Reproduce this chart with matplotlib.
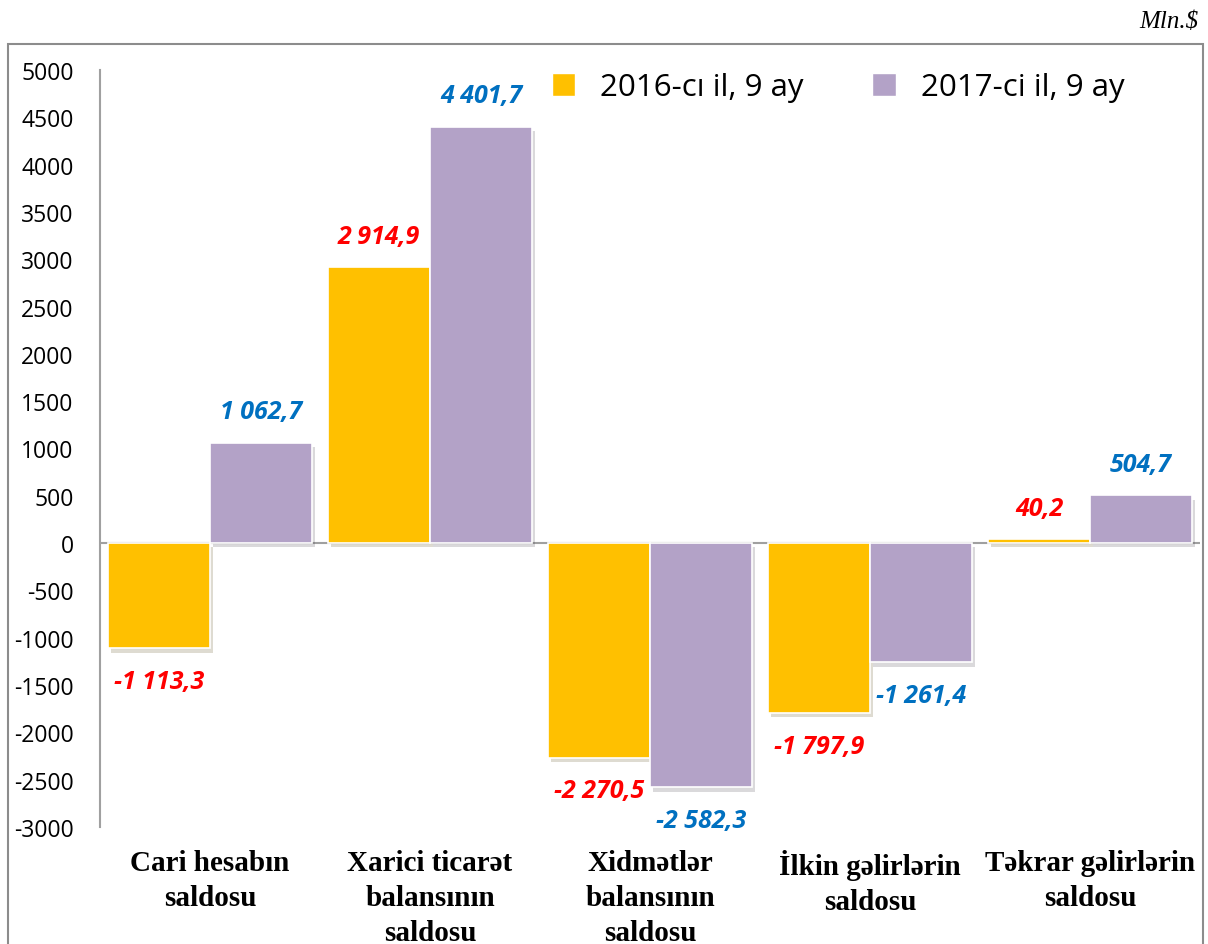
import matplotlib
matplotlib.use("Agg")
import matplotlib.pyplot as plt
import numpy as np
from matplotlib.patches import Patch, Rectangle
import matplotlib.patheffects as pe

categories = ["Cari hesabın\nsaldosu", "Xarici ticarət\nbalansının\nsaldosu",
              "Xidmətlər\nbalansının\nsaldosu", "İlkin gəlirlərin\nsaldosu",
              "Təkrar gəlirlərin\nsaldosu"]
series_names = ["2016-cı il, 9 ay", "2017-ci il, 9 ay"]
values_2016 = [-1113.3, 2914.9, -2270.5, -1797.9, 40.2]
values_2017 = [1062.7, 4401.7, -2582.3, -1261.4, 504.7]
yticks = list(range(-3000, 5001, 500))

colors = ["#FFC000", "#B3A2C7"]
label_colors = ["#FF0000", "#0070C0"]

def fmt(v):
    s = f"{abs(v):,.1f}".replace(",", " ").replace(".", ",")
    return ("-" if v < 0 else "") + s

fig = plt.figure(figsize=(12.08, 9.45), dpi=100)
ax = fig.add_axes([100/1208, (945-828)/945, 1100/1208, (828-71)/945])

x = np.arange(len(categories))
w = 0.4636
shadow = [pe.SimplePatchShadow(offset=(2, -3), alpha=0.18), pe.Normal()]
for i, (vals, c, lc) in enumerate(zip([values_2016, values_2017], colors, label_colors)):
    pos = x + (i - 0.5) * w
    bars = ax.bar(pos, vals, width=w, color=c, edgecolor="white", linewidth=1.2,
                  label=series_names[i], zorder=3)
    for b in bars:
        b.set_path_effects(shadow)
    for p, v in zip(pos, vals):
        off = 31 if v >= 0 else -33
        ax.annotate(fmt(v), (p, v), xytext=(0, off), textcoords="offset pixels",
                    ha="center", va="center", color=lc, fontsize=18,
                    fontweight="bold", fontstyle="italic", family="Open Sans")

ax.set_ylim(-3000, 5000)
ax.set_xlim(-0.5, len(categories) - 0.5)
ax.set_yticks(yticks)
ax.set_yticklabels([str(t) for t in yticks], family="Open Sans", fontsize=16.5)
ax.tick_params(axis="y", length=0, pad=19)
ax.tick_params(axis="x", length=0, pad=16)
ax.set_xticks(x)
ax.set_xticklabels(categories, family="Liberation Serif", fontweight="bold",
                   fontsize=21, linespacing=1.37, va="top")
ax.axhline(0, color="#A0A0A0", lw=1.5, zorder=2, solid_capstyle="butt")
for s in ["top", "right", "bottom"]:
    ax.spines[s].set_visible(False)
ax.spines["left"].set_color("#A0A0A0")
ax.spines["left"].set_linewidth(1.5)

handles = [Patch(facecolor=c, edgecolor="white") for c in colors]
fig.legend(handles, series_names, loc="center", bbox_to_anchor=(838/1208, 1-88/945),
           ncol=2, frameon=False, prop={"family": "Open Sans", "size": 22.5},
           handlelength=0.75, handleheight=0.75, columnspacing=2.2, handletextpad=0.8)

fig.patches.append(Rectangle((8/1208, -0.05), (1203-8)/1208, 1.05 - 45/945,
                             transform=fig.transFigure, fill=False,
                             edgecolor="#8C8C8C", lw=1.5))
fig.text(1198/1208, 1-22/945, "Mln.$", ha="right", va="center",
         family="Liberation Serif", fontstyle="italic", fontsize=18)

fig.savefig("out.png", dpi=100)
